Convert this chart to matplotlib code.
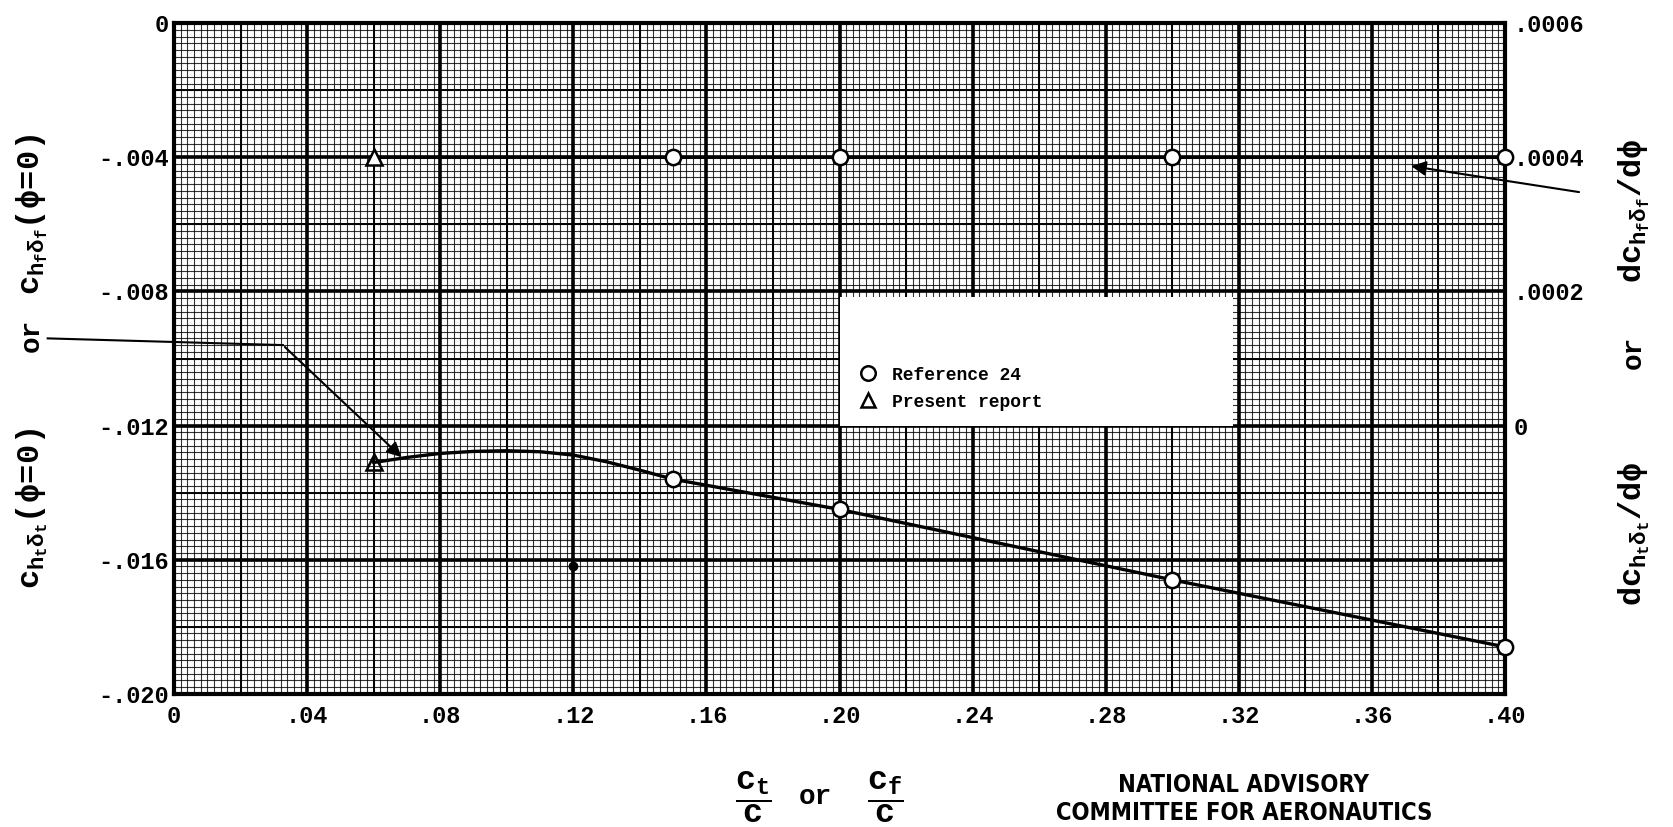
import numpy as np
import matplotlib.pyplot as plt
from matplotlib.patches import Rectangle

plt.rcParams['mathtext.fontset'] = 'custom'
plt.rcParams['mathtext.rm'] = 'Liberation Mono:bold'
plt.rcParams['mathtext.it'] = 'Liberation Mono:bold'
plt.rcParams['mathtext.bf'] = 'Liberation Mono:bold'
plt.rcParams['font.family'] = ['Liberation Mono', 'DejaVu Sans']
plt.rcParams['font.weight'] = 'bold'

# hinge-moment slope vs chord ratio
ref_x = [0.15, 0.20, 0.30, 0.40]
ref_delta = [-0.0136, -0.0145, -0.0166, -0.0186]   # c_h delta (left axis)
ref_phi = [0.0004, 0.0004, 0.0004, 0.0004]         # dc_h/dphi (right axis)
pres_x = [0.06]
pres_delta = [-0.0131]
pres_phi = [0.0004]
# faired curve
curve_x = [0.06, 0.07, 0.08, 0.09, 0.10, 0.11, 0.12, 0.13, 0.14, 0.15, 0.20, 0.25, 0.30, 0.35, 0.40]
curve_y = [-0.0131, -0.01295, -0.01283, -0.01277, -0.01275, -0.01278, -0.01288, -0.01308, -0.01333,
           -0.0136, -0.0145, -0.01555, -0.0166, -0.0176, -0.0186]
phi_line_x = [0.06, 0.40]
phi_line_y = [0.0004, 0.0004]
stray_x = [0.12]
stray_y = [-0.0162]

xticks = [0, .04, .08, .12, .16, .20, .24, .28, .32, .36, .40]
xlabels = ['0', '.04', '.08', '.12', '.16', '.20', '.24', '.28', '.32', '.36', '.40']
yticks = [0, -.004, -.008, -.012, -.016, -.020]
ylabels = ['0', '-.004', '-.008', '-.012', '-.016', '-.020']
rticks = [0, .0002, .0004, .0006]
rlabels = ['0', '.0002', '.0004', '.0006']

fig = plt.figure(figsize=(16.74, 8.27), dpi=100)
ax = fig.add_axes([0.104, 0.161, 0.795, 0.811])
ax.set_xlim(0, 0.40)
ax.set_ylim(-0.020, 0)

# graph paper
for v in np.linspace(0, 0.40, 201):
    ax.axvline(v, color='black', lw=0.8, alpha=0.8, zorder=0)
for v in np.linspace(-0.020, 0, 101):
    ax.axhline(v, color='black', lw=0.8, alpha=0.8, zorder=0)
for v in np.arange(0.02, 0.40, 0.04):
    ax.axvline(v, color='black', lw=1.4, zorder=0.5)
for v in np.arange(-0.018, 0, 0.004):
    ax.axhline(v, color='black', lw=1.4, zorder=0.5)
for v in xticks:
    ax.axvline(v, color='black', lw=2.6, zorder=0.6)
for v in yticks:
    ax.axhline(v, color='black', lw=2.6, zorder=0.6)
for s in ax.spines.values():
    s.set_linewidth(3)

ax.set_xticks(xticks)
ax.set_xticklabels(xlabels)
ax.set_yticks(yticks)
ax.set_yticklabels(ylabels)
ax.tick_params(length=0, labelsize=17, pad=8)
ax.tick_params(axis='y', pad=4)

ax2 = ax.twinx()
ax2.set_ylim(-0.0004, 0.0006)
ax2.set_yticks(rticks)
ax2.set_yticklabels(rlabels)
ax2.tick_params(length=0, labelsize=17, pad=6)
for s in ax2.spines.values():
    s.set_visible(False)

# legend box
ax.add_patch(Rectangle((0.500, 0.399), 0.296, 0.192, transform=ax.transAxes,
                       facecolor='white', edgecolor='none', zorder=2))

ax.plot(curve_x, curve_y, color='black', lw=2.4, zorder=3)
ax.plot(ref_x, ref_delta, 'o', ms=11, mfc='white', mec='black', mew=1.8, zorder=4, clip_on=False,
        label='Reference 24')
ax.plot(pres_x, pres_delta, '^', ms=11, mfc='none', mec='black', mew=1.8, zorder=4, clip_on=False,
        label='Present report')
ax.plot(stray_x, stray_y, 'o', ms=6, color='black', zorder=4)

ax2.plot(phi_line_x, phi_line_y, color='black', lw=2.2, zorder=3)
ax2.plot(ref_x, ref_phi, 'o', ms=11, mfc='white', mec='black', mew=1.8, zorder=4, clip_on=False)
ax2.plot(pres_x, pres_phi, '^', ms=11, mfc='white', mec='black', mew=1.8, zorder=4, clip_on=False)

leg = ax.legend(loc='center left', bbox_to_anchor=(0.508, 0.455), frameon=False, fontsize=13,
                handlelength=1.0, borderpad=0, handletextpad=0.8, labelspacing=0.55,
                markerscale=0.95)
leg.set_zorder(5)

# leader lines
ax.plot([-0.038, 0.0327], [-0.0094, -0.0096], color='black', lw=1.5, clip_on=False, zorder=3)
ax.annotate('', xy=(0.069, -0.0130), xytext=(0.0327, -0.0096),
            arrowprops=dict(arrowstyle='-|>', color='black', lw=1.5, mutation_scale=22),
            annotation_clip=False, zorder=3)
ax.annotate('', xy=(0.371, -0.00425), xytext=(0.4231, -0.00505),
            arrowprops=dict(arrowstyle='-|>', color='black', lw=1.5, mutation_scale=22),
            annotation_clip=False, zorder=3)

# axis titles
fs = 23
fig.text(0.019, 0.385, r'$c_{h_t\delta_t}(\phi\!=\!0)$', rotation=90, ha='center', va='center', fontsize=fs)
fig.text(0.019, 0.594, 'or', rotation=90, ha='center', va='center', fontsize=20)
fig.text(0.019, 0.740, r'$c_{h_f\delta_f}(\phi\!=\!0)$', rotation=90, ha='center', va='center', fontsize=fs)
fig.text(0.976, 0.354, r'$dc_{h_t\delta_t}/d\phi$', rotation=90, ha='center', va='center', fontsize=fs)
fig.text(0.976, 0.574, 'or', rotation=90, ha='center', va='center', fontsize=20)
fig.text(0.976, 0.745, r'$dc_{h_f\delta_f}/d\phi$', rotation=90, ha='center', va='center', fontsize=fs)

fig.text(0.450, 0.036, r'$\dfrac{c_t}{c}$', ha='center', va='center', fontsize=24)
fig.text(0.487, 0.036, 'or', ha='center', va='center', fontsize=20)
fig.text(0.529, 0.036, r'$\dfrac{c_f}{c}$', ha='center', va='center', fontsize=24)
fig.text(0.743, 0.051, 'NATIONAL ADVISORY', ha='center', va='center', fontsize=17,
         family='DejaVu Sans', fontstretch='condensed', weight='bold')
fig.text(0.743, 0.017, 'COMMITTEE FOR AERONAUTICS', ha='center', va='center', fontsize=17,
         family='DejaVu Sans', fontstretch='condensed', weight='bold')

fig.savefig('out.png', dpi=100)
